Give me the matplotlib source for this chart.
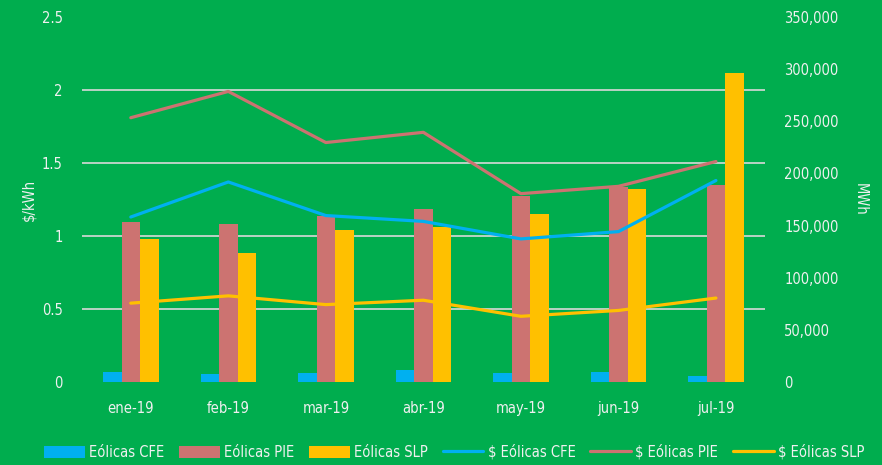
import numpy as np
import matplotlib
matplotlib.use('Agg')
import matplotlib.pyplot as plt
from matplotlib.ticker import FuncFormatter

months = ['ene-19', 'feb-19', 'mar-19', 'abr-19', 'may-19', 'jun-19', 'jul-19']

# generation (MWh, right axis)
mwh_cfe = [9900, 7700, 8300, 11500, 8300, 9600, 6000]
mwh_pie = [153400, 151500, 159200, 165900, 178400, 187300, 188900]
mwh_slp = [136800, 124000, 145800, 148900, 160800, 184800, 296600]

# price ($/kWh, left axis)
price_cfe = [1.13, 1.37, 1.14, 1.10, 0.98, 1.03, 1.38]
price_pie = [1.81, 1.99, 1.64, 1.71, 1.29, 1.34, 1.51]
price_slp = [0.54, 0.59, 0.53, 0.56, 0.45, 0.49, 0.575]

bar_labels = ['Eólicas CFE', 'Eólicas PIE', 'Eólicas SLP']
line_labels = ['$ Eólicas CFE', '$ Eólicas PIE', '$ Eólicas SLP']
colors = ['#00B0F0', '#CC7371', '#FFC000']

BG = '#00AD4E'
TXT = '#F0F0F0'
GRID = '#D9D9D9'

plt.rcParams['font.family'] = ['DejaVu Sans']
plt.rcParams['font.stretch'] = 'condensed'
plt.rcParams['font.size'] = 10.5

fig = plt.figure(figsize=(8.82, 4.65), dpi=100, facecolor=BG)
ax2 = fig.add_axes([0.093, 0.1785, 0.774, 0.785])   # bars, right axis
ax = ax2.twinx()                                      # lines, left axis
ax.yaxis.tick_left()
ax.yaxis.set_label_position('left')
ax2.yaxis.tick_right()
ax2.yaxis.set_label_position('right')
ax.set_zorder(ax2.get_zorder() + 1)
ax.patch.set_visible(False)
ax2.patch.set_visible(False)

x = np.arange(len(months))
w = 0.19
for i, (vals, lab) in enumerate(zip([mwh_cfe, mwh_pie, mwh_slp], bar_labels)):
    ax2.bar(x + (i - 1) * w, vals, w, color=colors[i], label=lab, zorder=3)

for vals, lab, c in zip([price_cfe, price_pie, price_slp], line_labels, colors):
    ax.plot(x, vals, color=c, lw=2.3, solid_capstyle='round', label=lab)

ax.set_ylim(0, 2.5)
ax.set_yticks([0, 0.5, 1, 1.5, 2, 2.5])
ax.set_yticklabels(['0', '0.5', '1', '1.5', '2', '2.5'])
ax2.set_ylim(0, 350000)
ax2.set_yticks(np.arange(0, 350001, 50000))
ax2.yaxis.set_major_formatter(FuncFormatter(lambda v, p: f'{int(v):,}'))
# gridlines follow the left axis ticks but sit behind the bars
ax2.set_yticks(np.array([0, 0.5, 1, 1.5, 2, 2.5]) * 350000 / 2.5, minor=True)
ax2.grid(which='minor', axis='y', color=GRID, lw=1.2, zorder=0)
ax2.tick_params(which='minor', length=0)

ax2.set_xlim(-0.5, len(months) - 0.5)
ax2.set_xticks(x)
ax2.set_xticklabels(months)

for a in (ax, ax2):
    for s in a.spines.values():
        s.set_visible(False)
    a.tick_params(colors=TXT, labelcolor=TXT, length=0)
ax.tick_params(axis='y', pad=14)
ax2.tick_params(axis='y', which='major', pad=14)
ax2.tick_params(axis='x', pad=14)

ax.set_ylabel('$/kWh', color=TXT, labelpad=4)
ax2.set_ylabel('MWh', color=TXT, rotation=270, labelpad=10, va='bottom')

h1, l1 = ax2.get_legend_handles_labels()
h2, l2 = ax.get_legend_handles_labels()
leg = fig.legend(h1 + h2, l1 + l2, loc='center', bbox_to_anchor=(0.515, 0.028),
                 ncol=6, frameon=False, handlelength=2.8, handleheight=0.9,
                 handletextpad=0.3, columnspacing=1.0, labelcolor=TXT)

fig.savefig('out.png', dpi=100, facecolor=BG)
